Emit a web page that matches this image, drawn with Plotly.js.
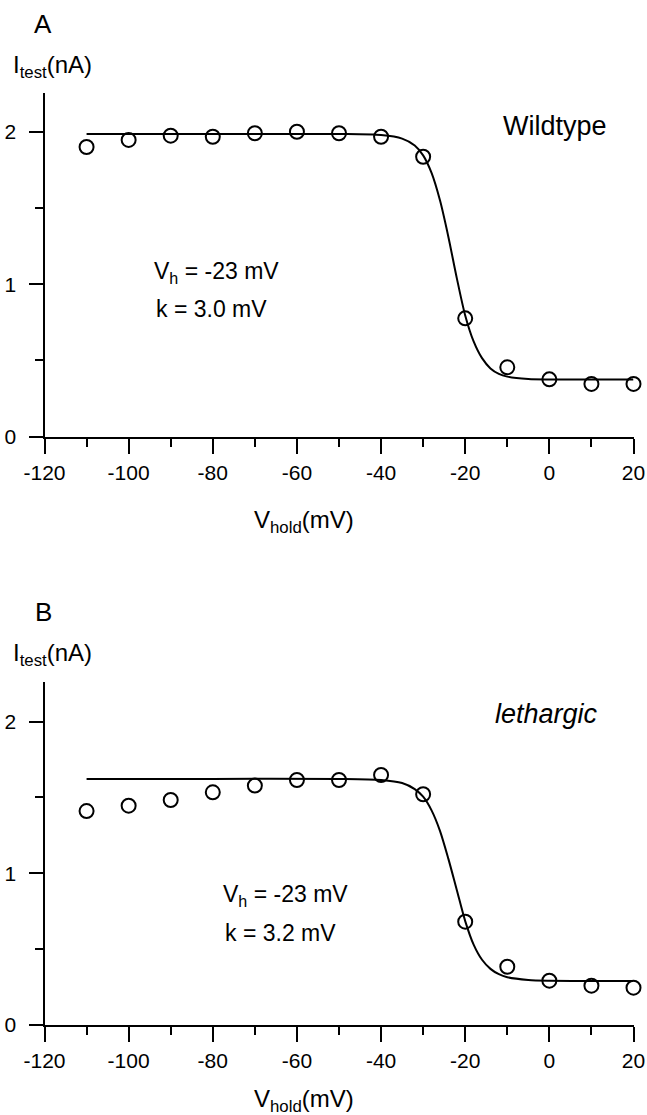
<!DOCTYPE html>
<html>
<head>
<meta charset="utf-8">
<script src="https://cdn.plot.ly/plotly-3.0.1.min.js"></script>
<style>
html,body{margin:0;padding:0;background:#fff;}
#chart{width:647px;height:1115px;}
</style>
</head>
<body>
<div id="chart"></div>
<script>
// ---- data ----
var holdVoltage = [-110, -100, -90, -80, -70, -60, -50, -40, -30, -20, -10, 0, 10, 20];
var wildtypeCurrent = [1.90, 1.946, 1.974, 1.967, 1.99, 2.0, 1.99, 1.967, 1.836, 0.776, 0.455, 0.376, 0.346, 0.346];
var lethargicCurrent = [1.41, 1.446, 1.483, 1.534, 1.578, 1.615, 1.615, 1.648, 1.521, 0.681, 0.384, 0.292, 0.259, 0.246];

var fitVoltage = [-110, -80, -50, -40, -35, -32, -30, -28, -26, -24, -22, -20, -18, -16, -14, -12, -10, -5, 0, 10, 20];
var wildtypeFit = [1.985, 1.985, 1.985, 1.978, 1.955, 1.91, 1.845, 1.73, 1.55, 1.31, 1.04, 0.795, 0.625, 0.515, 0.448, 0.412, 0.394, 0.378, 0.375, 0.375, 0.375];
var lethargicFit = [1.622, 1.622, 1.622, 1.615, 1.595, 1.555, 1.505, 1.415, 1.28, 1.095, 0.89, 0.685, 0.53, 0.43, 0.37, 0.335, 0.315, 0.297, 0.292, 0.29, 0.29];

var xTickVals = [-120, -100, -80, -60, -40, -20, 0, 20];
var xTickText = ['-120', '-100', '-80', '-60', '-40', '-20', '0', '20'];
var yTickVals = [0, 1, 2];
var yTickText = ['0', '1', '2'];

var panelLetters = ['A', 'B'];
var genotypeLabels = ['Wildtype', '<i>lethargic</i>'];
var vhLabels = ['V<sub>h</sub> = -23 mV', 'V<sub>h</sub> = -23 mV'];
var kLabels = ['k = 3.0 mV', 'k = 3.2 mV'];
var yTitle = 'I<sub>test</sub>(nA)';
var xTitle = 'V<sub>hold</sub>(mV)';

// ---- styling / layout ----
var FONT = 'Liberation Sans, Arial, Helvetica, sans-serif';
var W = 647, H = 1115;
function px(x){ return x / W; }
function py(y){ return 1 - y / H; }

function scatterTrace(y, xa, ya){
  return {x: holdVoltage, y: y, xaxis: xa, yaxis: ya, type: 'scatter', mode: 'markers',
    cliponaxis: false, hoverinfo: 'skip',
    marker: {symbol: 'circle-open', size: 14, color: '#000', line: {width: 2, color: '#000'}}};
}
function fitTrace(y, xa, ya){
  return {x: fitVoltage, y: y, xaxis: xa, yaxis: ya, type: 'scatter', mode: 'lines',
    cliponaxis: false, hoverinfo: 'skip',
    line: {color: '#000', width: 2, shape: 'spline', smoothing: 0.8}};
}

function xAxis(anchor){
  return {anchor: anchor, domain: [px(44.5), px(633.5)], range: [-120, 20],
    tickmode: 'array', tickvals: xTickVals, ticktext: xTickText,
    ticks: 'outside', ticklen: 15, tickwidth: 2, tickcolor: '#000',
    minor: {dtick: 10, tick0: -120, ticks: 'outside', ticklen: 8, tickwidth: 2, tickcolor: '#000', showgrid: false},
    showline: true, linewidth: 2, linecolor: '#000', showgrid: false, zeroline: false,
    ticklabelstandoff: 1, tickfont: {family: FONT, size: 21, color: '#000'}, fixedrange: true};
}
function yAxis(anchor, dom, top){
  return {anchor: anchor, domain: dom, range: [0, top],
    tickmode: 'array', tickvals: yTickVals, ticktext: yTickText,
    ticks: 'outside', ticklen: 14, tickwidth: 2, tickcolor: '#000',
    minor: {dtick: 0.5, tick0: 0, ticks: 'outside', ticklen: 8, tickwidth: 2, tickcolor: '#000', showgrid: false},
    showline: true, linewidth: 2, linecolor: '#000', showgrid: false, zeroline: false,
    ticklabelstandoff: 8, tickfont: {family: FONT, size: 21, color: '#000'}, fixedrange: true};
}

var data = [
  fitTrace(wildtypeFit, 'x', 'y'),
  scatterTrace(wildtypeCurrent, 'x', 'y'),
  fitTrace(lethargicFit, 'x2', 'y2'),
  scatterTrace(lethargicCurrent, 'x2', 'y2')
];

function ann(text, x, y, size, xanchor){
  return {text: text, xref: 'paper', yref: 'paper', x: px(x), y: py(y),
    xanchor: xanchor || 'left', yanchor: 'middle', showarrow: false,
    font: {family: FONT, size: size, color: '#000'}};
}

var offsets = [0, 588.3];
var vhPos = [[152, 273], [221, 895]];
var kPos = [[154, 309], [223, 933]];
var annotations = [];
for (var i = 0; i < 2; i++){
  var o = offsets[i];
  annotations.push(ann(panelLetters[i], 43, 24 + o, 26, 'center'));
  annotations.push(ann(yTitle, 11, 66 + o, 24, 'left'));
  annotations.push(ann(genotypeLabels[i], i === 0 ? 501 : 493, 126 + o, 27, 'left'));
  annotations.push(ann(vhLabels[i], vhPos[i][0], vhPos[i][1], 23, 'left'));
  annotations.push(ann(kLabels[i], kPos[i][0], kPos[i][1], 23, 'left'));
  annotations.push(ann(xTitle, 304, (i === 0 ? 521 : 512) + o, 24, 'center'));
}

var layout = {
  width: W, height: H, margin: {l: 0, r: 0, t: 0, b: 0},
  paper_bgcolor: '#fff', plot_bgcolor: '#fff', showlegend: false,
  xaxis: xAxis('y'), yaxis: yAxis('x', [py(436.7), py(93.3)], 2.252),
  xaxis2: xAxis('y2'), yaxis2: yAxis('x2', [py(1025), py(681.7)], 2.263),
  annotations: annotations,
  font: {family: FONT, color: '#000'}
};

Plotly.newPlot('chart', data, layout, {staticPlot: true, displayModeBar: false});
</script>
</body>
</html>
